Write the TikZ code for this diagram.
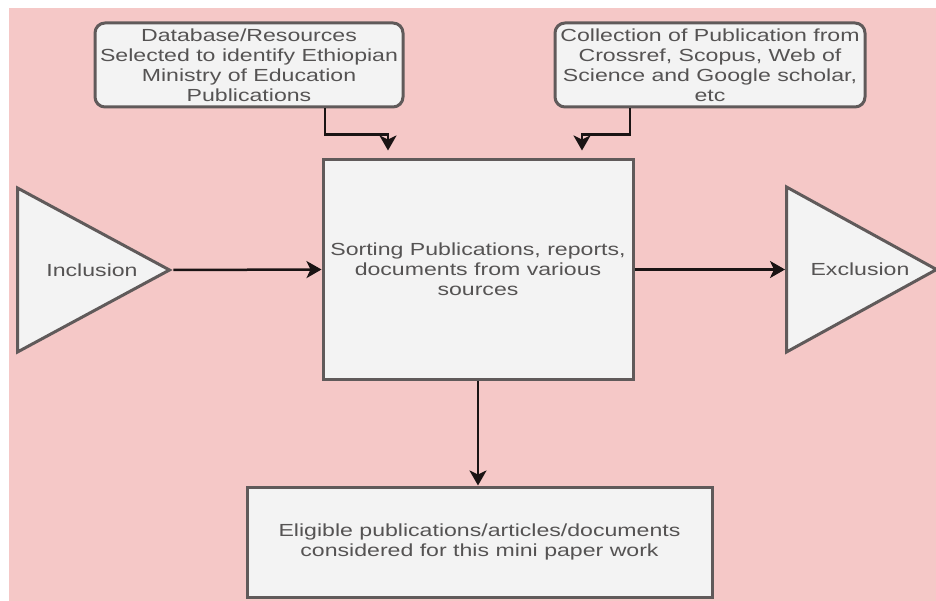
\documentclass[tikz,border=0pt]{standalone}
\usepackage{fontspec}
\setmainfont{Liberation Sans}[FakeStretch=1.32]
\usepackage{tikz}
\usetikzlibrary{positioning,arrows.meta,shapes.geometric}
\usepackage{xcolor}
\definecolor{bgpink}{HTML}{F5C8C7}
\definecolor{boxfill}{HTML}{F3F3F3}
\definecolor{boxline}{HTML}{605A5A}
\definecolor{txtgray}{HTML}{555353}
\definecolor{arrline}{HTML}{1A1414}

\begin{document}
\begin{tikzpicture}[
x=1pt, y=-1pt,
every node/.style = {draw=boxline, line width=3pt, fill=boxfill, text=txtgray, align=center,
  font=\fontsize{17.5}{20}\selectfont},
srcbox/.style = {rectangle, rounded corners=10pt, minimum width=308pt, minimum height=84pt, inner sep=0pt},
flatbox/.style = {rectangle, inner sep=0pt},
tri/.style = {isosceles triangle, isosceles triangle stretches, shape border rotate=0, inner sep=0pt, anchor=lower side},
tritext/.style = {draw=none, fill=none, inner sep=0pt},
arr/.style = {draw=arrline, line width=2.5pt, -{Stealth[length=15pt,width=17pt,inset=4pt]}},
]
  \useasboundingbox (0,0) rectangle (936,601);
  \fill[white] (0,0) rectangle (936,601);
  \fill[bgpink] (9,8) rectangle (936,601);

  \node[srcbox] (dbres) at (249,65) {Database/Resources\\Selected to identify Ethiopian\\Ministry of Education\\Publications};
  \node[srcbox, minimum width=310pt] (colpub) at (710,65) {Collection of Publication from\\Crossref, Scopus, Web of\\Science and Google scholar,\\etc};
  \node[flatbox, minimum width=310pt, minimum height=219pt] (sorting) at (478,269.5) {Sorting Publications, reports,\\documents from various\\sources};
  \node[tri, minimum width=164pt, minimum height=152pt] (incl) at (16,270) {};
  \node[tritext] (incltext) at (92,270) {Inclusion};
  \node[tri, minimum width=165pt, minimum height=150pt] (excl) at (785,269.5) {};
  \node[tritext] (excltext) at (860,269.5) {Exclusion};
  \node[flatbox, minimum width=465pt, minimum height=110pt] (eligible) at (479.5,542) {Eligible publications/articles/documents\\considered for this mini paper work};

  \draw[arr, shorten >=8pt] ([xshift=76pt]dbres.south) -- ++(0,26) -| ([xshift=-90pt]sorting.north);
  \draw[arr, shorten >=8pt] ([xshift=-80pt]colpub.south) -- ++(0,26) -| ([xshift=104pt]sorting.north);
  \draw[arr] (incl.apex) -- (sorting.west);
  \draw[arr] (sorting.east) -- (excl.lower side);
  \draw[arr] (sorting.south) -- (sorting.south |- eligible.north);
\end{tikzpicture}
\end{document}
